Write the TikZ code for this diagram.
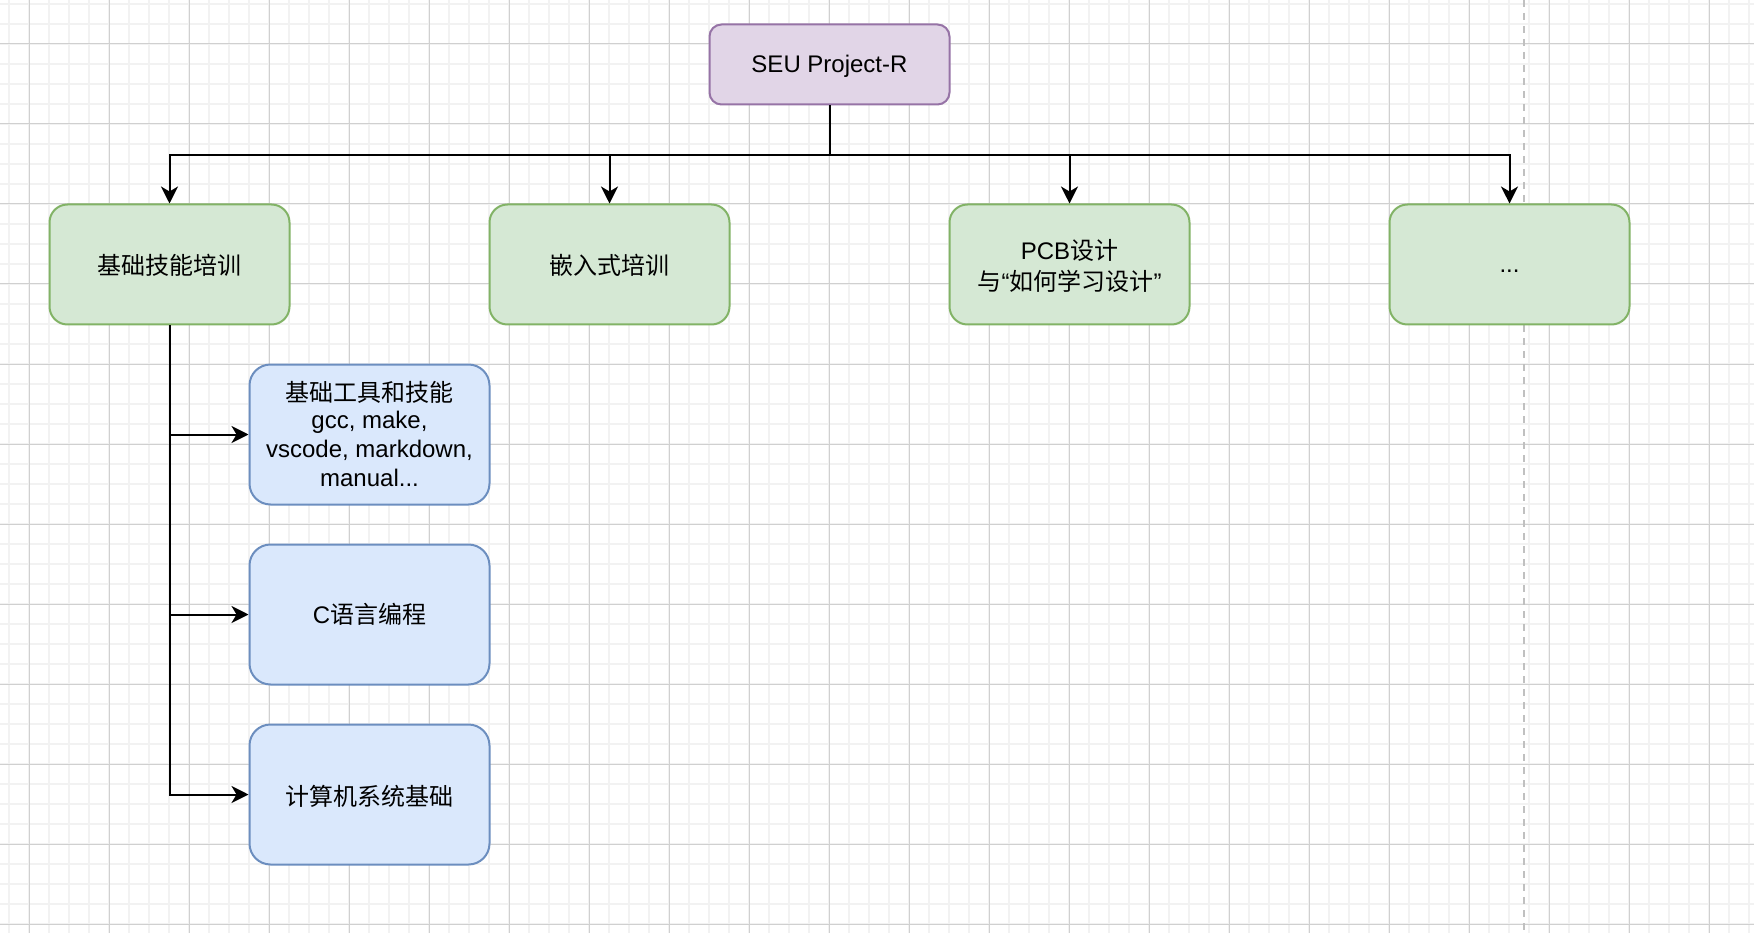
\documentclass[tikz,border=0pt]{standalone}
\usepackage{fontspec}
\setmainfont{Liberation Sans}
\newfontfamily\cjk{Noto Sans CJK SC}
\usetikzlibrary{arrows.meta}
\definecolor{purpfill}{HTML}{E1D5E7}
\definecolor{purpline}{HTML}{9673A6}
\definecolor{greenfill}{HTML}{D5E8D4}
\definecolor{greenline}{HTML}{82B366}
\definecolor{bluefill}{HTML}{DAE8FC}
\definecolor{blueline}{HTML}{6C8EBF}
\definecolor{gridminor}{HTML}{F2F2F2}
\definecolor{gridmajor}{HTML}{D0D0D0}
\definecolor{pagebreak}{HTML}{C0C0C0}
\newcommand\dstrut{\rule[-6.1pt]{0pt}{28.8pt}}
\newcommand\shiftdown[2]{\raisebox{-#1}[22.7pt][6.1pt]{#2}}
\begin{document}
\begin{tikzpicture}[x=1pt,y=-1pt,
  box/.style={draw, line width=2pt, minimum width=240pt, align=center, inner sep=0pt,
    font=\fontsize{24}{28.8}\selectfont, text=black,
    execute at begin node=\dstrut, execute at end node=\dstrut},
  topbox/.style={box, fill=purpfill, draw=purpline, minimum height=80pt, rounded corners=12pt},
  greenbox/.style={box, fill=greenfill, draw=greenline, minimum height=120pt, rounded corners=18pt},
  bluebox/.style={box, fill=bluefill, draw=blueline, minimum height=140pt, rounded corners=21pt},
  conn/.style={line width=2pt, -{Stealth[length=17pt,width=17pt,inset=5pt]}},
  minorgrid/.style={gridminor, line width=1.6pt},
  majorgrid/.style={gridmajor, line width=1pt},
]
\useasboundingbox (0,0) rectangle (1754,933);
\fill[white] (0,0) rectangle (1754,933);
% grid
\foreach \x in {9,29,...,1749} \draw[minorgrid] (\x,0) -- (\x,933);
\foreach \y in {4,24,...,924} \draw[minorgrid] (0,\y) -- (1754,\y);
\foreach \x in {29,109,...,1709} \draw[majorgrid] (\x,0) -- (\x,933);
\foreach \y in {44,124,...,924} \draw[majorgrid] (0,\y) -- (1754,\y);
% page break
\draw[pagebreak, line width=2pt, dash pattern=on 7pt off 6pt] (1524,0) -- (1524,933);
% nodes
\node[topbox] (seu) at (829.5,64.5) {SEU Project-R};
\node[greenbox] (g1) at (169.5,264.5) {\shiftdown{2.2pt}{\cjk 基础技能培训}};
\node[greenbox] (g2) at (609.5,264.5) {\shiftdown{2.2pt}{\cjk 嵌入式培训}};
\node[greenbox] (g3) at (1069.5,264.5) {\shiftdown{1pt}{PCB{\cjk 设计}}\\\shiftdown{3pt}{{\cjk 与}“{\cjk 如何学习设计}”}};
\node[greenbox] (g4) at (1509.5,264.5) {...};
\node[bluebox] (b1) at (369.5,434.5) {\shiftdown{1.8pt}{\cjk 基础工具和技能}\\gcc, make,\\vscode, markdown,\\manual...};
\node[bluebox] (b2) at (369.5,614.5) {\shiftdown{1pt}{C{\cjk 语言编程}}};
\node[bluebox] (b3) at (369.5,794.5) {\shiftdown{2.2pt}{\cjk 计算机系统基础}};
% connectors
\draw[conn] (seu.south) -- ++(0,50) -| (g1.north);
\draw[conn] (seu.south) -- ++(0,50) -| (g2.north);
\draw[conn] (seu.south) -- ++(0,50) -| (g3.north);
\draw[conn] (seu.south) -- ++(0,50) -| (g4.north);
\draw[conn] (g1.south) |- (b1.west);
\draw[conn] (g1.south) |- (b2.west);
\draw[conn] (g1.south) |- (b3.west);
\end{tikzpicture}
\end{document}
